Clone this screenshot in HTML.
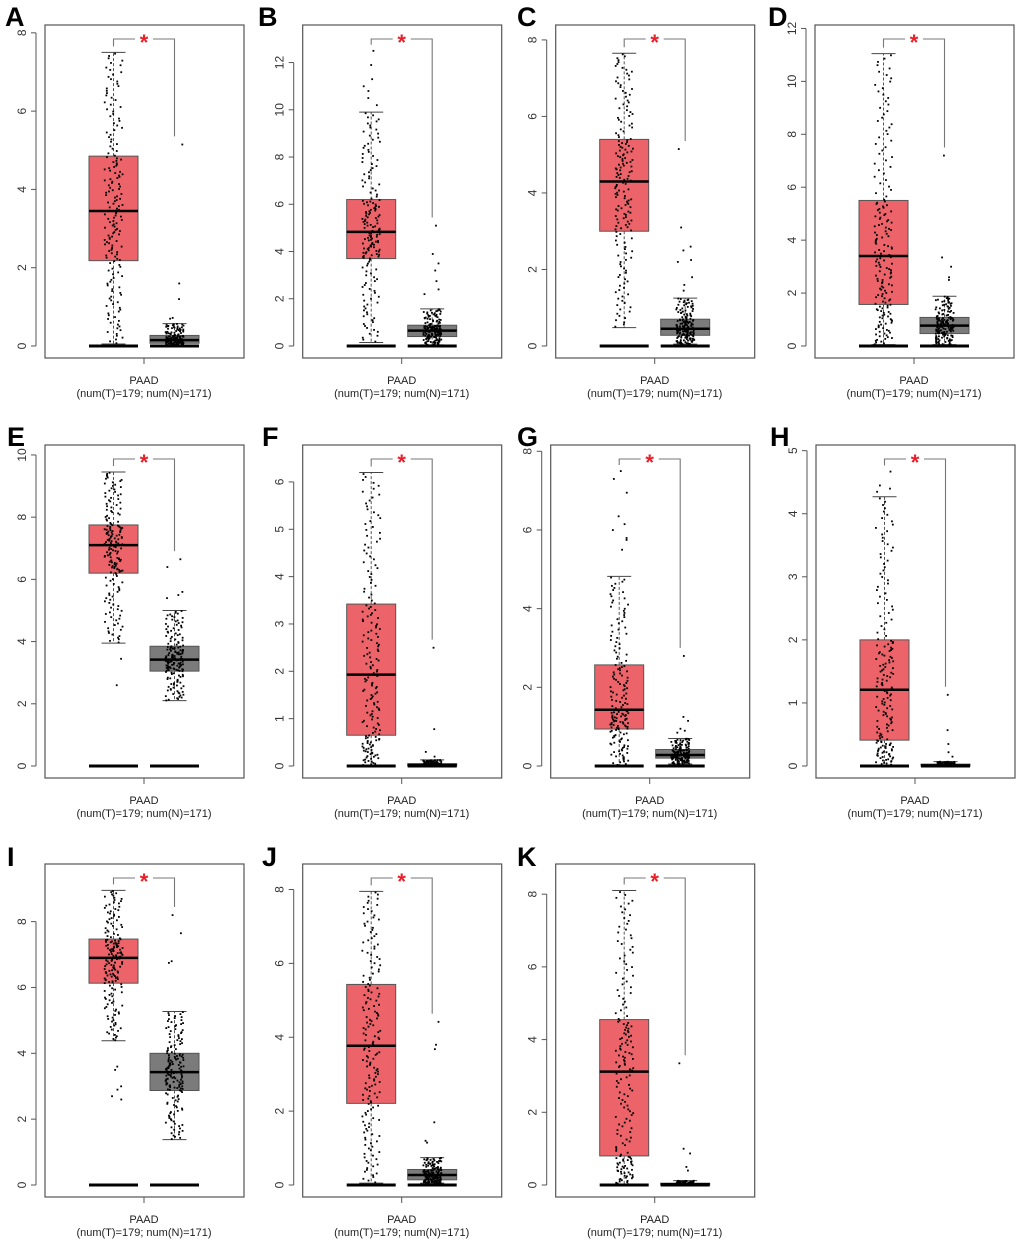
<!DOCTYPE html>
<html><head><meta charset="utf-8"><style>
html,body{margin:0;padding:0;background:#fff;}
svg{display:block;font-family:"Liberation Sans",Arial,sans-serif;}
</style></head><body>
<svg id="fig" width="1020" height="1242" viewBox="0 0 1020 1242" xmlns="http://www.w3.org/2000/svg"></svg>
<script>
// ---- data ----
const panelLetters = ["A","B","C","D","E","F","G","H","I","J","K"];
const axisTop = [8.2,13.59,8.39,12.13,10.32,6.78,8.16,5.09,9.75,8.69,8.83];
const tickMax = [8,12,8,12,10,6,8,5,8,8,8];
const tickStep = [2,2,2,2,2,1,2,1,2,2,2];
// [lowWhisker, q1, median, q3, highWhisker]
const tumorStats = [
 [0.05,2.18,3.45,4.85,7.5],[0.15,3.7,4.83,6.2,9.9],[0.48,3.0,4.3,5.4,7.65],[0.05,1.57,3.4,5.5,11.05],
 [3.95,6.2,7.1,7.75,9.45],[0.0,0.65,1.93,3.42,6.2],[0.02,0.94,1.43,2.57,4.82],[0.0,0.41,1.21,2.0,4.27],
 [4.38,6.13,6.9,7.47,8.95],[0.05,2.21,3.77,5.43,7.95],[0.0,0.8,3.12,4.55,8.1]];
const normalStats = [
 [0.0,0.07,0.15,0.27,0.57],[0.05,0.4,0.65,0.88,1.57],[0.05,0.28,0.45,0.7,1.25],[0.05,0.47,0.77,1.08,1.88],
 [2.1,3.05,3.42,3.85,5.0],[0.0,0.0,0.02,0.05,0.13],[0.05,0.2,0.28,0.42,0.7],[0.0,0.0,0.01,0.03,0.07],
 [1.38,2.87,3.43,4.0,5.27],[0.05,0.14,0.27,0.42,0.74],[0.0,0.0,0.02,0.05,0.12]];
const tumorOutliers = [[],[12.5,11.9,11.3,11.0,10.8,10.5,10.2],[],[],[3.45,2.6],[],
 [7.5,7.3,6.95,6.35,6.15,6.0,5.8,5.75,5.5],[4.67,4.45,4.4,4.35],[3.6,3.5,3.0,2.9,2.7,2.6],[],[]];
const normalOutliers = [[5.15,1.6,1.2,0.72,0.7],[5.1,3.9,3.5,3.2,2.75,2.4,2.2],[5.15,3.1,2.6,2.5,2.25,2.2,1.8,1.6,1.45],
 [7.2,3.35,3.0,2.6,2.5],[6.65,6.4,5.6,5.5,5.4],[2.5,0.78,0.3,0.2],[2.8,1.25,1.15,0.95,0.9,0.85],
 [1.13,0.57,0.35,0.22,0.15],[8.2,7.65,6.8,6.75],[4.42,3.8,3.68,1.7,1.2,1.15],[3.35,1.0,0.87,0.5,0.4]];
const nTumor = 179, nNormal = 171;

// ---- layout ----
const boxLeft = [45,302.7,555.7,815,45,302.7,550.7,816,45,302.7,555.7];
const rowTop = [25,445,864];
const letterX = [5,258,517,768,7,262,517,770,7,262,517];
const letterY = [26,446,866];
const PW = 199, PH = 333;
const NS = "http://www.w3.org/2000/svg";
const svg = document.getElementById('fig');
function mk(tag, attrs, parent){
  const e = document.createElementNS(NS, tag);
  for (const k in attrs) e.setAttribute(k, attrs[k]);
  (parent||svg).appendChild(e); return e;
}
let seed = 12345;
function rnd(){ seed = (seed*1103515245 + 12345) % 2147483648; return seed/2147483648; }
function quant(st, p){
  const ps=[0,0.25,0.5,0.75,1];
  for(let i=0;i<4;i++){ if(p<=ps[i+1]){ const t=(p-ps[i])/0.25; return st[i]+t*(st[i+1]-st[i]); } }
  return st[4];
}

panelLetters.forEach((letter, i) => {
  const row = Math.floor(i/4);
  const L = boxLeft[i], T = rowTop[row], B = T + PH;
  const zeroY = B - 12;
  const sc = (zeroY - T) / axisTop[i];
  const y = v => zeroY - v*sc;
  const g = mk('g', {});
  
  

  const lt = mk('text', {x: letterX[i], y: letterY[row], 'font-size': 27, 'font-weight': 'bold', fill: '#000'}, g);
  lt.textContent = letter;
  
  

  const frame = mk('rect', {x: L, y: T, width: PW, height: PH, fill: 'none', stroke: '#555', 'stroke-width': 1.2}, g);
  
  

  // y axis
  const ax = L - 9;
  const yaxis = mk('line', {x1: ax, x2: ax, y1: y(0), y2: y(tickMax[i]), stroke: '#555', 'stroke-width': 1}, g);
  
  
  for (let v = 0; v <= tickMax[i] + 1e-9; v += tickStep[i]) {
    mk('line', {x1: ax-5, x2: ax, y1: y(v), y2: y(v), stroke: '#555', 'stroke-width': 1}, g);
    const tl = mk('text', {x: 0, y: 0, 'font-size': 12, fill: '#333', 'text-anchor': 'middle',
      transform: `translate(${ax-10},${y(v)}) rotate(-90)`}, g);
    tl.textContent = String(v);
    
    
  }
  // x axis tick + labels
  const cx = L + 99;
  mk('line', {x1: cx, x2: cx, y1: B, y2: B+6, stroke: '#555', 'stroke-width': 1}, g);
  const xl = mk('text', {x: cx, y: B+26, 'font-size': 11, fill: '#222', 'text-anchor': 'middle'}, g);
  xl.textContent = 'PAAD';
  
  
  const xl2 = mk('text', {x: cx, y: B+39, 'font-size': 11, fill: '#222', 'text-anchor': 'middle'}, g);
  xl2.textContent = '(num(T)=179; num(N)=171)';
  
  

  const groups = [
    {st: tumorStats[i], out: tumorOutliers[i], x0: L+44, fill: '#EC6469', n: nTumor, name: 'tumor'},
    {st: normalStats[i], out: normalOutliers[i], x0: L+105, fill: '#7B7B7B', n: nNormal, name: 'normal'}];
  groups.forEach(gr => {
    const st = gr.st, w = 49, c = gr.x0 + w/2;
    mk('line', {x1: c, x2: c, y1: y(st[3]), y2: y(st[4]), stroke: '#555', 'stroke-width': 1, 'stroke-dasharray': '3,2'}, g);
    mk('line', {x1: c, x2: c, y1: y(st[1]), y2: y(st[0]), stroke: '#555', 'stroke-width': 1, 'stroke-dasharray': '3,2'}, g);
    mk('line', {x1: c-12, x2: c+12, y1: y(st[4]), y2: y(st[4]), stroke: '#444', 'stroke-width': 1}, g);
    mk('line', {x1: c-12, x2: c+12, y1: y(st[0]), y2: y(st[0]), stroke: '#444', 'stroke-width': 1}, g);
    const bx = mk('rect', {x: gr.x0, y: y(st[3]), width: w, height: Math.max(1, y(st[1]) - y(st[3])), fill: gr.fill, stroke: '#555', 'stroke-width': 1}, g);
    
    
    const md = mk('line', {x1: gr.x0, x2: gr.x0+w, y1: y(st[2]), y2: y(st[2]), stroke: '#000', 'stroke-width': 2.5}, g);
    
    
    const zl = mk('line', {x1: gr.x0, x2: gr.x0+w, y1: y(0), y2: y(0), stroke: '#000', 'stroke-width': 3}, g);
    
    
    const pts = mk('g', {fill: '#000'}, g);
    
    
    const nIn = gr.n - gr.out.length;
    for (let k = 0; k < nIn; k++) {
      const v = quant(st, (k + 0.5) / nIn);
      mk('rect', {x: c - 9 + rnd()*18 - 0.8, y: y(v) - 0.8, width: 1.8, height: 1.8}, pts);
    }
    gr.out.forEach(v => {
      mk('rect', {x: c - 8 + rnd()*16 - 0.8, y: y(v) - 0.8, width: 1.8, height: 1.8}, pts);
    });
  });
  // significance bracket
  const cT = L + 68.5, cN = L + 129.5, by = T + 14;
  const tMax = Math.max(tumorStats[i][4], ...tumorOutliers[i], 0);
  const nMax = Math.max(normalStats[i][4], ...normalOutliers[i], 0);
  const br = mk('polyline', {points: `${cT},${Math.min(y(tMax)-6, by+14)} ${cT},${by} ${cN},${by} ${cN},${y(nMax)-8}`, fill: 'none', stroke: '#777', 'stroke-width': 1.1}, g);
  
  
  mk('rect', {x: (cT+cN)/2 - 9, y: by - 3, width: 18, height: 6, fill: '#fff'}, g);
  const star = mk('text', {x: (cT+cN)/2, y: by + 11, 'font-size': 22, 'font-weight': 'bold', fill: '#E8202A', 'text-anchor': 'middle'}, g);
  star.textContent = '*';
  
  
});
</script>
</body></html>
